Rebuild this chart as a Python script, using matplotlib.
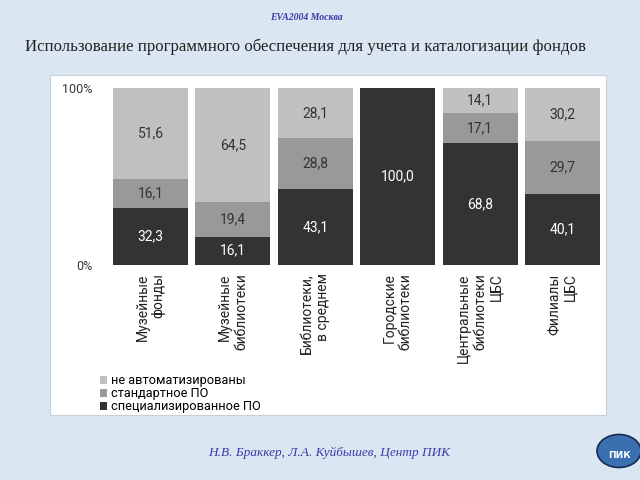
import numpy as np
import matplotlib.pyplot as plt
from matplotlib.patches import Rectangle, Circle

# Data
categories = [
    "Музейные\nфонды",
    "Музейные\nбиблиотеки",
    "Библиотеки,\nв среднем",
    "Городские\nбиблиотеки",
    "Центральные\nбиблиотеки\nЦБС",
    "Филиалы\nЦБС",
]
special_po = [32.3, 16.1, 43.1, 100.0, 68.8, 40.1]
standard_po = [16.1, 19.4, 28.8, 0.0, 17.1, 29.7]
not_auto = [51.6, 64.5, 28.1, 0.0, 14.1, 30.2]
series_names = ["специализированное ПО", "стандартное ПО", "не автоматизированы"]

colors = ["#333333", "#999999", "#c0c0c0"]
sans = "Roboto"
serif = "Liberation Serif"

fig = plt.figure(figsize=(6.4, 4.8), dpi=100)
fig.patch.set_facecolor("#dae6f2")

# white chart panel
fig.patches.append(Rectangle((50 / 640, 1 - 415 / 480), 556 / 640, 340 / 480,
                             transform=fig.transFigure, facecolor="white",
                             edgecolor="#c8d0d8", linewidth=0.8, zorder=0))

# header / footer texts
fig.text(0.478, 1 - 17 / 480, "EVA2004 Москва", fontsize=7, fontstyle="italic",
         fontweight="bold", color="#3a3aa8", family=serif, ha="center", va="center")
fig.text(0.477, 1 - 47 / 480, "Использование программного обеспечения для учета и каталогизации фондов",
         fontsize=12.1, color="#222222", family=serif, ha="center", va="center")
fig.text(0.515, 1 - 453 / 480, "Н.В. Браккер, Л.А. Куйбышев, Центр ПИК", fontsize=9.5,
         fontstyle="italic", color="#3a3aa8", family=serif, ha="center", va="center")

# logo
fig.patches.append(Circle((619 / 640, 1 - 451 / 480), 22 / 640, transform=fig.transFigure,
                          facecolor="#3a6fb0", edgecolor="#1a2a50", linewidth=1.2))
fig.text(619 / 640, 1 - 456 / 480, "ПИК", fontsize=6.5, fontweight="bold", color="white",
         ha="center", va="center", family="DejaVu Sans")

ax = fig.add_axes([113 / 640, 1 - 265 / 480, 487 / 640, 177 / 480])
ax.set_facecolor("none")
ax.set_zorder(3)

x = np.arange(len(categories))
w = 0.91
bottom = np.zeros(len(categories))
handles = []
for vals, col, name in zip([special_po, standard_po, not_auto], colors, series_names):
    vals = np.array(vals)
    b = ax.bar(x, vals, w, bottom=bottom, color=col, label=name)
    handles.append(b)
    for xi, v, bt in zip(x, vals, bottom):
        if v > 0:
            tc = "white" if col == "#333333" else "#333333"
            ax.text(xi, bt + v / 2, f"{v:.1f}".replace(".", ","), ha="center", va="center",
                    fontsize=10, color=tc, family=sans)
    bottom += vals

ax.set_xlim(-0.455, len(categories) - 0.545)
ax.set_ylim(0, 100)
for s in ax.spines.values():
    s.set_visible(False)
ax.set_yticks([0, 100])
ax.set_yticklabels(["0%", "100%"], fontsize=9, family=sans, color="#333333")
ax.tick_params(axis="y", length=0, pad=15)
ax.set_xticks(x)
ax.set_xticklabels(categories, rotation=90, fontsize=10, family=sans, color="#222222",
                   ha="center", va="top", multialignment="right")
ax.tick_params(axis="x", length=0, pad=6)

leg = fig.legend(handles[::-1], series_names[::-1], loc="upper left",
                 bbox_to_anchor=(94 / 640, 1 - 368 / 480), frameon=False,
                 prop={"family": sans, "size": 9.2}, handlelength=0.55, handleheight=0.55,
                 handletextpad=0.3, labelspacing=0.0, borderpad=0)
leg.set_zorder(3)

plt.savefig("out.png", dpi=100, facecolor=fig.get_facecolor())
